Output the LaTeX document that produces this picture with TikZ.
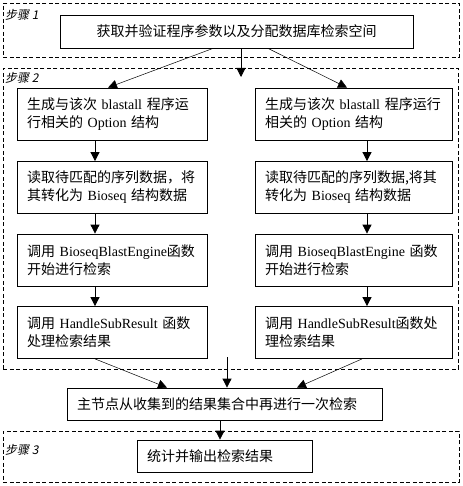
\documentclass[tikz,border=0pt]{standalone}
\usepackage{fontspec}
\setmainfont{Liberation Serif}
\newfontfamily\cjk{Noto Sans CJK SC}
\newfontfamily\cjkslant[FakeSlant=0.2]{Noto Sans CJK SC}
\newcommand\zh[1]{{\cjk #1}}
\usetikzlibrary{arrows.meta}
\tikzset{
  stepframe/.style={draw, line width=0.8pt, dash pattern=on 4pt off 2.5pt, anchor=north west, inner sep=0pt},
  stepname/.style={anchor=north west, inner sep=0pt, font=\cjkslant\fontsize{12}{14}\selectfont},
  proc/.style={draw, line width=0.8pt, align=left, inner xsep=10pt, inner ysep=0pt, minimum height=52pt, font=\fontsize{14}{18}\selectfont},
  link/.style={line width=0.8pt, -{Triangle[length=9pt,width=9pt]}}
}
\begin{document}
\begin{tikzpicture}[x=1pt,y=-1pt]
\useasboundingbox (0,0) rectangle (462,486);
\node[stepframe, minimum width=456pt, minimum height=54pt] (step1) at (3,3) {};
\node[stepframe, minimum width=455pt, minimum height=301pt] (step2) at (3,68) {};
\node[stepframe, minimum width=456pt, minimum height=51pt] (step3) at (3,431) {};
\node[stepname] (name1) at (5,9) {步骤 1};
\node[stepname] (name2) at (5,72) {步骤 2};
\node[stepname] (name3) at (5,444) {步骤 3};

\node[proc, text width=333pt, align=center, minimum height=33pt] (top) at (236.5,31.5) {\zh{获取并验证程序参数以及分配数据库检索空间}};

\node[proc, text width=170pt] (l1) at (112,114) {\zh{生成与该次} blastall \zh{程序运}\\\zh{行相关的} Option \zh{结构}};
\node[proc, text width=170pt] (l2) at (112,187.5) {\zh{读取待匹配的序列数据，将}\\\zh{其转化为} Bioseq \zh{结构数据}};
\node[proc, text width=170pt] (l3) at (112,260) {\zh{调用} BioseqBlastEngine\zh{函数}\\\zh{开始进行检索}};
\node[proc, text width=170pt] (l4) at (112,332.5) {\zh{调用} HandleSubResult \zh{函数}\\\zh{处理检索结果}};

\node[proc, text width=177pt] (r1) at (353.5,114) {\zh{生成与该次} blastall \zh{程序运行}\\\zh{相关的} Option \zh{结构}};
\node[proc, text width=177pt] (r2) at (353.5,187.5) {\zh{读取待匹配的序列数据,将其}\\\zh{转化为} Bioseq \zh{结构数据}};
\node[proc, text width=177pt] (r3) at (353.5,260) {\zh{调用} BioseqBlastEngine \zh{函数}\\\zh{开始进行检索}};
\node[proc, text width=177pt] (r4) at (353.5,332.5) {\zh{调用} HandleSubResult\zh{函数处}\\\zh{理检索结果}};

\node[proc, text width=295pt, minimum height=32pt] (main) at (224.5,404) {\zh{主节点从收集到的结果集合中再进行一次检索}};
\node[proc, text width=155pt, minimum height=32pt] (final) at (224.5,456) {\zh{统计并输出检索结果}};

\coordinate (into2) at (241,77);
\coordinate (outof2) at (227,357);

\draw[link] ([xshift=4.5pt]top.south) -- (into2);
\draw[link, line width=0.5pt] ([xshift=-23.5pt]top.south) -- ([xshift=-4pt]l1.north);
\draw[link, line width=0.5pt] ([xshift=31.5pt]top.south) -- ([xshift=-6.5pt]r1.north);
\foreach \a/\b in {l1/l2,l2/l3,l3/l4}
  \draw[link] ([xshift=-17pt]\a.south) -- ([xshift=-17pt]\b.north);
\foreach \a/\b in {r1/r2,r2/r3,r3/r4}
  \draw[link] ([xshift=13.5pt]\a.south) -- ([xshift=13.5pt]\b.north);
\draw[link, line width=0.5pt] ([xshift=-17pt]l4.south) -- ([xshift=-57.5pt]main.north);
\draw[link] (outof2) -- ([xshift=2.5pt]main.north);
\draw[link, line width=0.5pt] ([xshift=8.5pt]r4.south) -- ([xshift=72.5pt]main.north);
\draw[link] ([xshift=-4.5pt]main.south) -- ([xshift=-4.5pt]final.north);
\end{tikzpicture}
\end{document}
